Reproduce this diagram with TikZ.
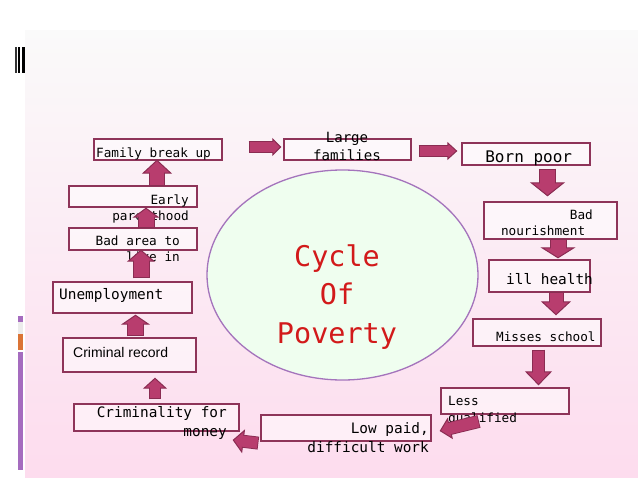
\documentclass[tikz,border=0pt]{standalone}
\usepackage{fontspec}
\setmainfont{DejaVu Sans Mono}
\newfontfamily\arialfont{Liberation Sans}
\usetikzlibrary{arrows.meta}
\usetikzlibrary{shapes.geometric}

\definecolor{boxline}{HTML}{8E3459}
\definecolor{arrowfill}{HTML}{B83D6E}
\definecolor{arrowline}{HTML}{8A2C52}
\definecolor{ringline}{HTML}{A474BC}
\definecolor{ringfill}{HTML}{EFFEEF}
\definecolor{cyclered}{HTML}{D21A1A}
\definecolor{slidetop}{HTML}{FAFAFA}
\definecolor{slidemid}{HTML}{F4EFF2}
\definecolor{slidebot}{HTML}{FDDCEE}
\definecolor{barpurple}{HTML}{A56CBF}
\definecolor{barorange}{HTML}{DB7436}
\definecolor{bargray}{HTML}{ECECEC}

\begin{document}
\begin{tikzpicture}[x=1pt,y=-1pt,
              stage/.style={draw=boxline, line width=1.3pt, fill=white, fill opacity=0.5, inner sep=0pt},
              smalltext/.style={font=\fontsize{12.7}{16.7}\selectfont, inner sep=0pt},
              bigtext/.style={font=\fontsize{14.4}{19}\selectfont, inner sep=0pt},
              flow/.style n args={3}{draw=arrowfill, line width=#1,
                -{Triangle[length=#3, width=#2, color=arrowline, fill=arrowfill, line width=1pt]},
                preaction={draw=arrowline, -, line width=#1+2pt, shorten <=-1pt, shorten >=#3-2pt},
                postaction={draw=arrowfill, -, line width=#1, shorten >=#3-1.6pt}}]
  \useasboundingbox (0,0) rectangle (638,479);
  \fill[white] (0,0) rectangle (638,479);
  \shade[top color=slidetop, middle color=slidemid, bottom color=slidebot] (25,30) rectangle (638,477);
  \fill[black!80] (15,47) rectangle (16.5,73);
  \fill[black] (18,47) rectangle (19.5,73);
  \fill[black] (21.5,47) rectangle (24.5,73);
  \fill[barpurple] (18,316) rectangle (23,322);
  \fill[bargray] (18,322) rectangle (23,334);
  \fill[barorange] (18,334) rectangle (23,350);
  \fill[barpurple] (18,352) rectangle (23,470);

  \node[ellipse, draw=ringline, line width=1.3pt, fill=ringfill, minimum width=271pt, minimum height=210pt] (ring) at (342.5,275) {};
  \node[font=\fontsize{28.5}{38.4}\selectfont, text=cyclered, align=center, inner sep=0pt, anchor=base] (cycletxt) at (337,343.3) {Cycle\\Of\\Poverty};

  \node[stage, minimum width=128pt, minimum height=21pt] (fambreak) at (158,149.5) {};
  \node[stage, minimum width=127pt, minimum height=21pt] (large) at (347.5,149.5) {};
  \node[stage, minimum width=128pt, minimum height=22pt] (bornpoor) at (526,154) {};
  \node[stage, minimum width=133pt, minimum height=37pt] (badnour) at (550.5,220.5) {};
  \node[stage, minimum width=101pt, minimum height=32pt] (ill) at (539.5,276) {};
  \node[stage, minimum width=128pt, minimum height=27pt] (misses) at (537,332.5) {};
  \node[stage, minimum width=128pt, minimum height=26pt] (lessq) at (505,401) {};
  \node[stage, minimum width=170pt, minimum height=26pt] (lowpaid) at (346,428) {};
  \node[stage, minimum width=165pt, minimum height=27pt] (crimmoney) at (156.5,417.5) {};
  \node[stage, minimum width=133pt, minimum height=34pt] (crimrec) at (129.5,355) {};
  \node[stage, minimum width=139pt, minimum height=31pt] (unemp) at (122.5,297.5) {};
  \node[stage, minimum width=128pt, minimum height=22pt] (badarea) at (133,239) {};
  \node[stage, minimum width=128pt, minimum height=21pt] (early) at (133,196.5) {};

  \node[smalltext, anchor=base west] (fambreaktxt) at (96,157) {Family break up};
  \node[font=\fontsize{14.1}{18.7}\selectfont, inner sep=0pt, align=center, anchor=base] (largetxt) at (347,160.7) {Large\\families};
  \node[font=\fontsize{16}{19}\selectfont, inner sep=0pt, anchor=base] (bornpoortxt) at (528.7,162) {Born poor};
  \node[smalltext, align=right, anchor=base east] (badnourtxt) at (593,235.7) {Bad\\nourishment\hphantom{x}};
  \node[bigtext, anchor=base west] (illtxt) at (506,284) {ill health};
  \node[smalltext, anchor=base west] (missestxt) at (496,341.3) {Misses school};
  \node[smalltext, align=left, anchor=base west] (lessqtxt) at (448,422) {Less\\qualified};
  \node[bigtext, align=right, anchor=base east] (lowpaidtxt) at (429,452) {Low paid,\\difficult work};
  \node[font=\fontsize{14.4}{19.4}\selectfont, inner sep=0pt, align=right, anchor=base east] (crimmoneytxt) at (227,436.7) {Criminality for\\money};
  \node[font=\arialfont\fontsize{14}{17}\selectfont, inner sep=0pt, anchor=base west] (crimrectxt) at (73,357.3) {Criminal record};
  \node[bigtext, anchor=base west] (unemptxt) at (59,299.3) {Unemployment};
  \node[smalltext, align=right, anchor=base east] (badareatxt) at (180,261.7) {Bad area to\\live in};
  \node[smalltext, align=right, anchor=base east] (earlytxt) at (189,220.7) {Early\\parenthood};

  \draw[flow={10pt}{18pt}{9pt}] ([shift={(27pt,2.5pt)}]fambreak.east) -- ([shift={(-2pt,2.5pt)}]large.west);
  \draw[flow={10pt}{18pt}{10pt}] ([shift={(8pt,-1.5pt)}]large.east) -- ([shift={(-4pt,3pt)}]bornpoor.west);
  \draw[flow={15pt}{35pt}{14pt}] ([shift={(21.5pt,-4pt)}]bornpoor.south) -- ([shift={(-3pt,5pt)}]badnour.north);
  \draw[flow={15pt}{35pt}{11pt}] ([shift={(7.5pt,0pt)}]badnour.south) -- ([shift={(18.5pt,1pt)}]ill.north);
  \draw[flow={13pt}{30pt}{14pt}] ([shift={(16.5pt,0pt)}]ill.south) -- ([shift={(19pt,3pt)}]misses.north);
  \draw[flow={11pt}{27pt}{14pt}] ([shift={(1.5pt,-4pt)}]misses.south) -- ([shift={(33.5pt,2pt)}]lessq.north);
  \draw[flow={11pt}{22pt}{11pt}] ([shift={(-27pt,-7pt)}]lessq.south) -- ([shift={(8pt,-3pt)}]lowpaid.east);
  \draw[flow={11pt}{24pt}{11pt}] ([shift={(-3pt,-15pt)}]lowpaid.west) -- ([shift={(-7pt,-22.5pt)}]crimmoney.east);
  \draw[flow={10pt}{24pt}{11pt}] ([shift={(-1.5pt,5pt)}]crimmoney.north) -- ([shift={(25.5pt,-5pt)}]crimrec.south);
  \draw[flow={15pt}{29pt}{10pt}] ([shift={(6pt,2pt)}]crimrec.north) -- ([shift={(13pt,-1pt)}]unemp.south);
  \draw[flow={15pt}{28pt}{12pt}] ([shift={(18.5pt,4pt)}]unemp.north) -- ([shift={(8pt,1pt)}]badarea.south);
  \draw[flow={15pt}{27pt}{10pt}] ([shift={(13pt,0pt)}]badarea.north) -- ([shift={(13pt,0pt)}]early.south);
  \draw[flow={14pt}{30pt}{14pt}] ([shift={(24pt,0pt)}]early.north) -- ([shift={(-1pt,1pt)}]fambreak.south);
\end{tikzpicture}
\end{document}
